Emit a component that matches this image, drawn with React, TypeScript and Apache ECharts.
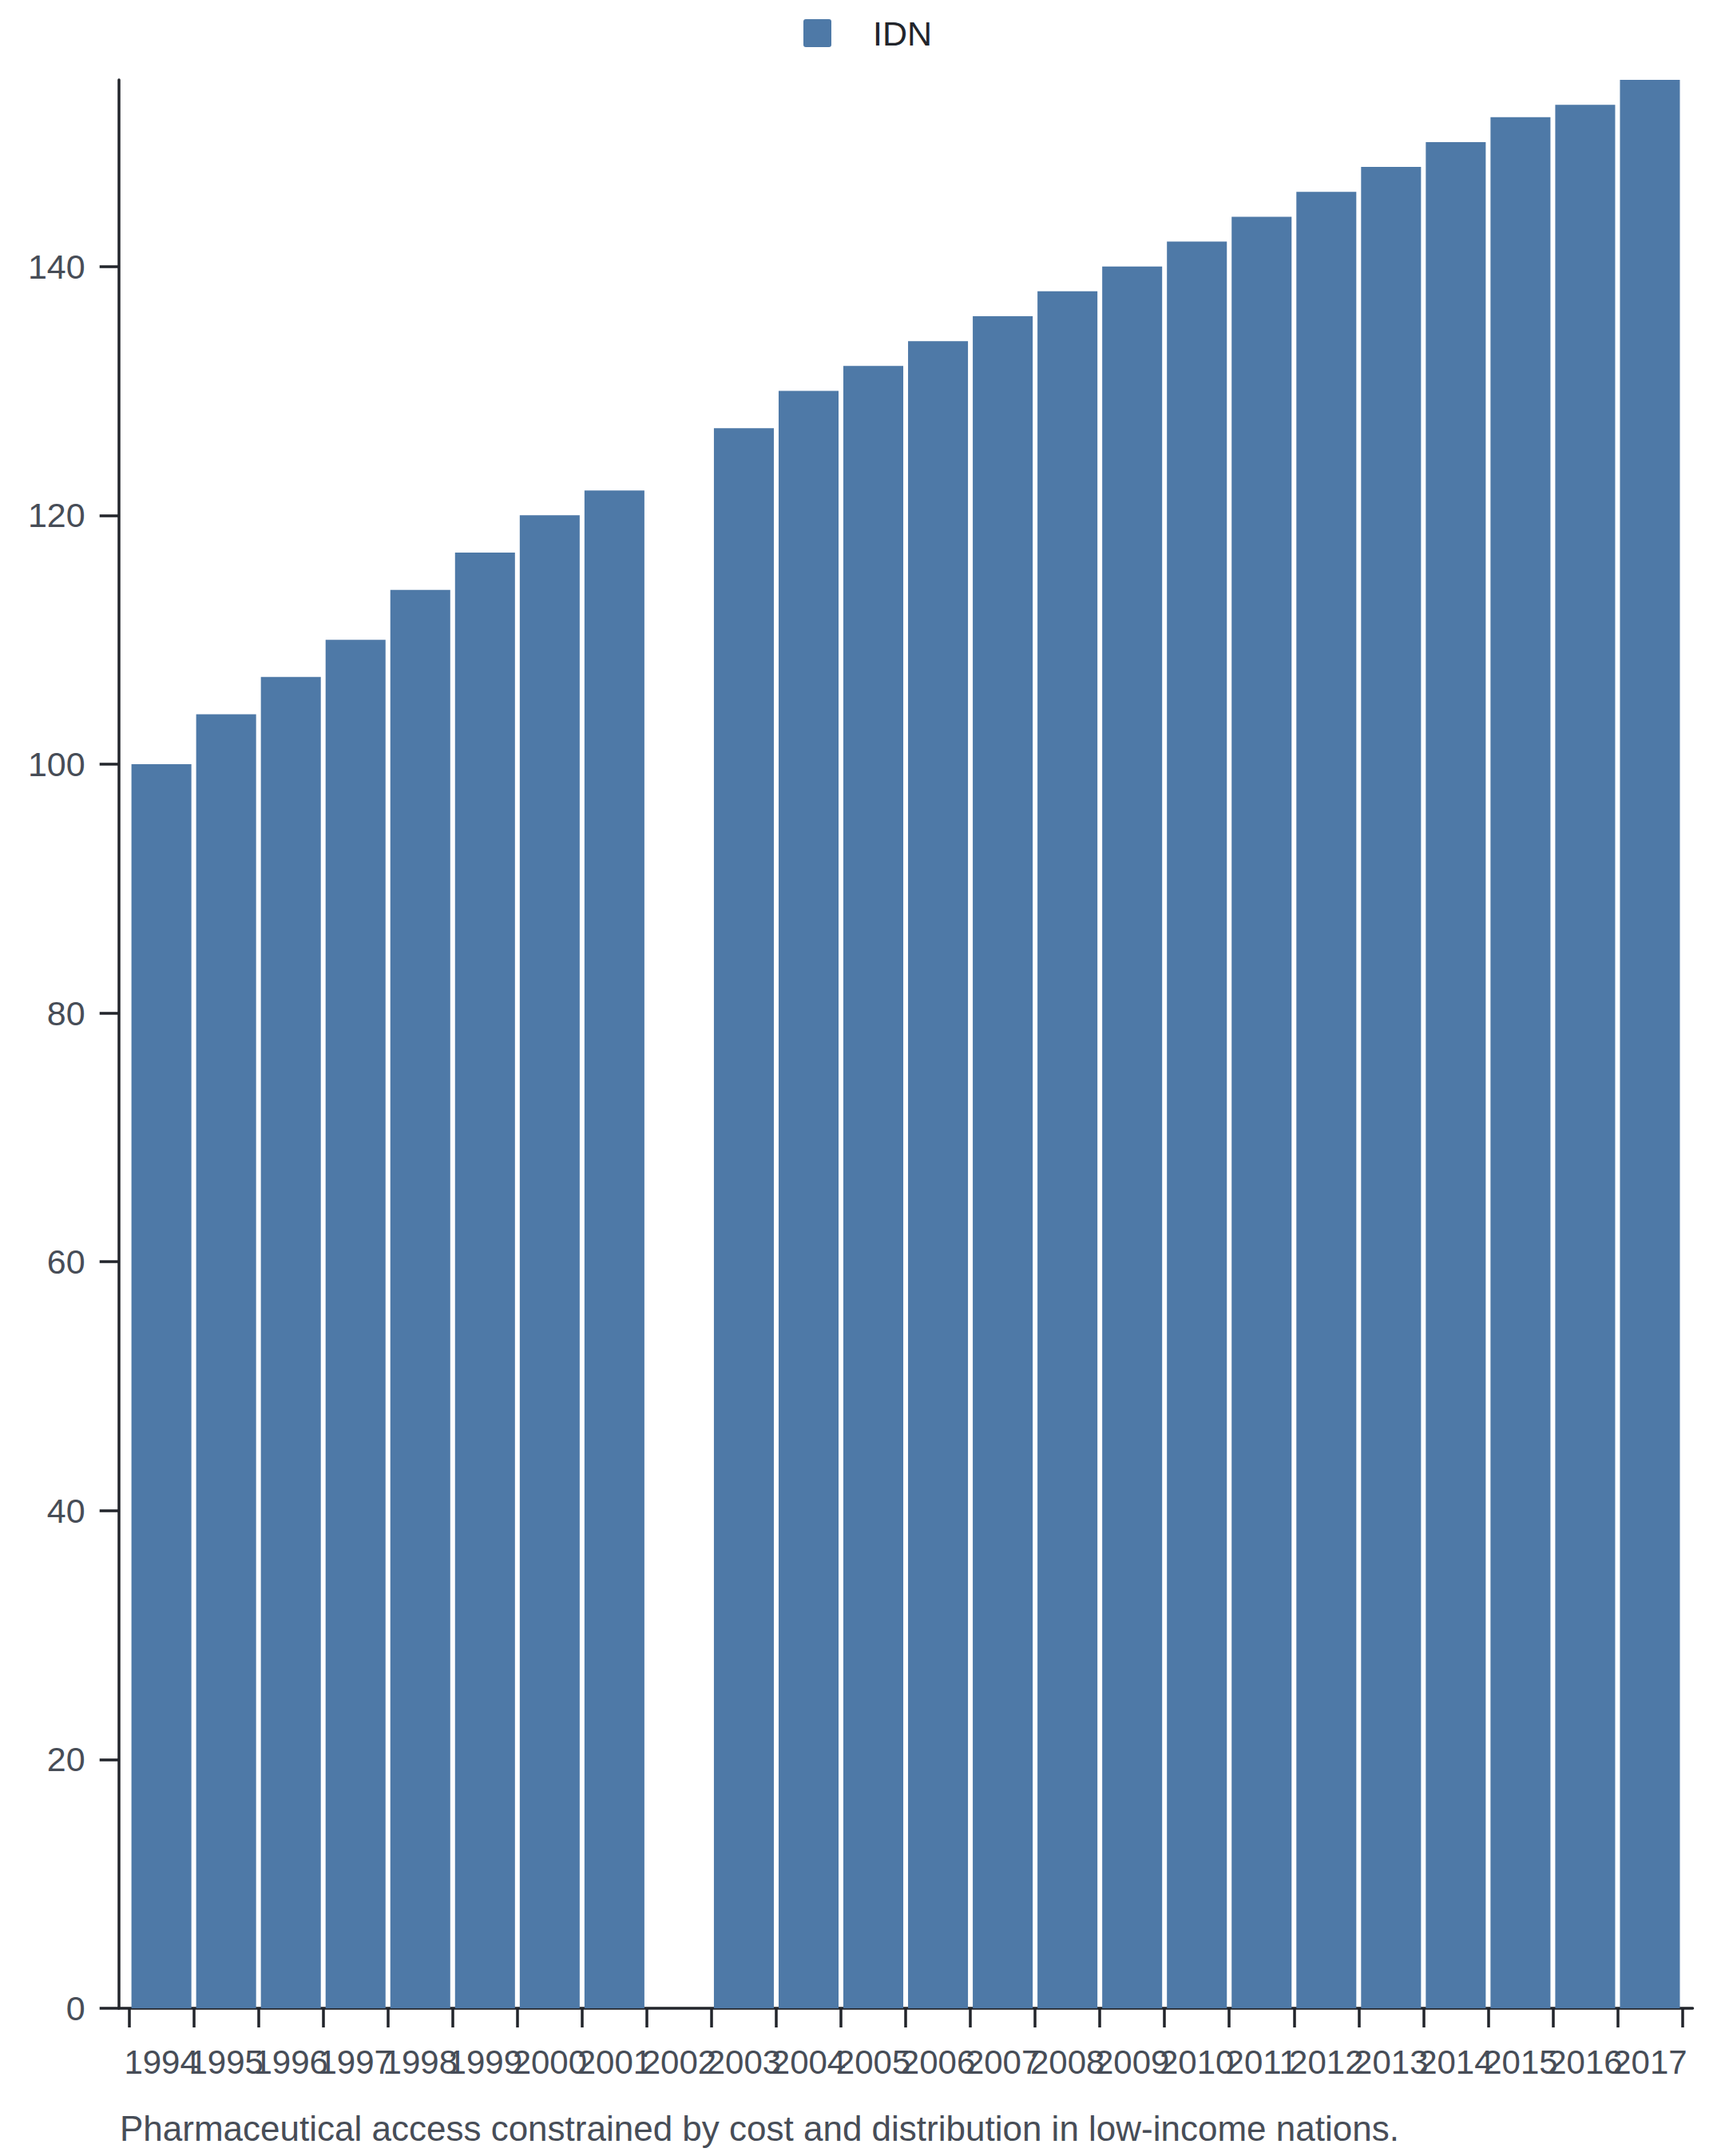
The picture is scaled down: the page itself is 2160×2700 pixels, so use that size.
import React, { useEffect, useRef } from "react";
import * as echarts from "echarts";

const years: string[] = [
  "1994", "1995", "1996", "1997", "1998", "1999", "2000", "2001", "2002", "2003", "2004", "2005",
  "2006", "2007", "2008", "2009", "2010", "2011", "2012", "2013", "2014", "2015", "2016", "2017",
];
const idnValues: (number | null)[] = [
  100, 104, 107, 110, 114, 117, 120, 122, null, 127, 130, 132,
  134, 136, 138, 140, 142, 144, 146, 148, 150, 152, 153, 155,
];
const yTicks: number[] = [0, 20, 40, 60, 80, 100, 120, 140];
const seriesName = "IDN";
const caption = "Pharmaceutical access constrained by cost and distribution in low-income nations.";

const FONT = "'Liberation Sans', Arial, Helvetica, sans-serif";
const AXIS = "#22252b";
const LABEL = "#474d57";
const BAR = "#4e79a7";
const LEGEND_ICON =
  "path://M3,0 H32 A3,3 0 0 1 35,3 V32 A3,3 0 0 1 32,35 H3 A3,3 0 0 1 0,32 V3 A3,3 0 0 1 3,0 Z";

export default function App() {
  const ref = useRef<HTMLDivElement>(null);
  useEffect(() => {
    document.body.style.margin = "0";
    if (!ref.current) return;
    const chart = echarts.init(ref.current, null, { renderer: "svg" });
    chart.setOption({
      animation: false,
      backgroundColor: "#ffffff",
      textStyle: { fontFamily: FONT },
      title: {
        text: caption,
        left: 150,
        top: 2643,
        padding: 0,
        textStyle: { fontSize: 44, fontWeight: "normal", color: LABEL, fontFamily: FONT },
      },
      legend: {
        data: [seriesName],
        left: 1006,
        top: 20,
        padding: 0,
        icon: LEGEND_ICON,
        itemWidth: 35,
        itemHeight: 35,
        textStyle: { fontSize: 43, color: "#22252b", fontFamily: FONT, padding: [0, 0, 0, 47] },
      },
      grid: [
        { left: 148.7, top: 100, width: 1970.8, height: 2415, outerBoundsMode: "none", containLabel: false },
        { left: 161.6, top: 100, width: 1944.9, height: 2415, outerBoundsMode: "none", containLabel: false },
      ],
      xAxis: [
        {
          gridIndex: 0,
          type: "value",
          min: 0,
          max: 1,
          axisLine: { show: true, lineStyle: { color: AXIS, width: 3.5 } },
          axisTick: { show: false },
          axisLabel: { show: false },
          splitLine: { show: false },
        },
        {
          gridIndex: 1,
          type: "category",
          data: years,
          boundaryGap: true,
          axisLine: { show: false },
          axisTick: { show: true, length: 24, interval: 0, lineStyle: { color: AXIS, width: 3.5 } },
          axisLabel: { interval: 0, fontSize: 42, color: LABEL, margin: 46, fontFamily: FONT },
          splitLine: { show: false },
        },
      ],
      yAxis: [
        {
          gridIndex: 0,
          type: "value",
          min: 0,
          max: 155,
          interval: 20,
          axisLine: { show: true, lineStyle: { color: AXIS, width: 3.5 } },
          axisTick: { show: true, length: 24, lineStyle: { color: AXIS, width: 3.5 }, customValues: yTicks },
          axisLabel: { fontSize: 43, color: LABEL, margin: 42, fontFamily: FONT, customValues: yTicks },
          splitLine: { show: false },
        },
        {
          gridIndex: 1,
          type: "value",
          min: 0,
          max: 155,
          show: false,
          splitLine: { show: false },
        },
      ],
      series: [
        {
          name: seriesName,
          type: "bar",
          xAxisIndex: 1,
          yAxisIndex: 1,
          data: idnValues,
          barCategoryGap: "7.4%",
          itemStyle: { color: BAR },
        },
      ],
    });
    return () => chart.dispose();
  }, []);
  return <div ref={ref} style={{ width: 2160, height: 2700 }} />;
}
